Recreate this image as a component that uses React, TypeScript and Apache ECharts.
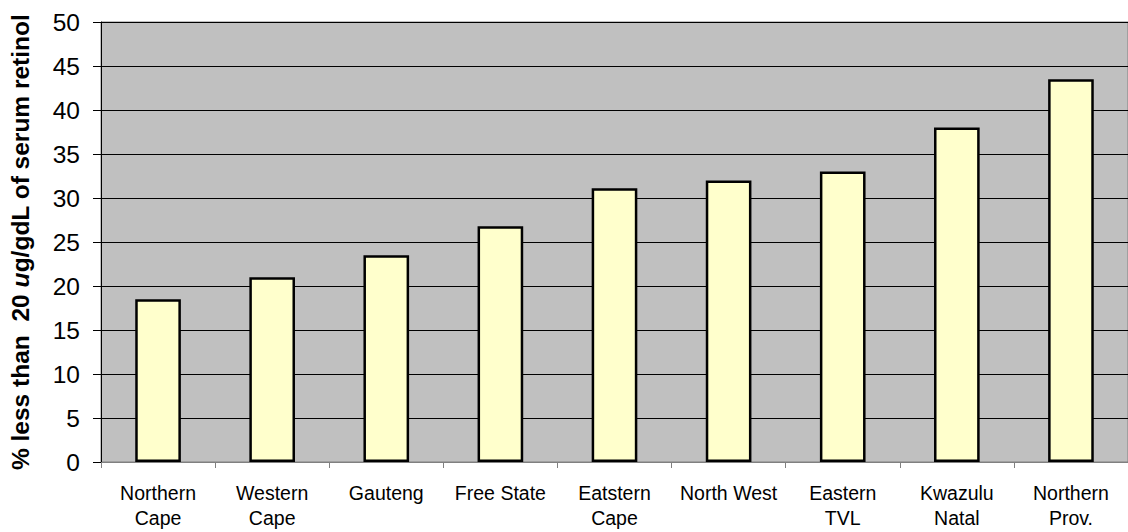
import React, { useEffect, useRef } from "react";
import * as echarts from "echarts";

const categories = [
  "Northern\nCape",
  "Western\nCape",
  "Gauteng",
  "Free State",
  "Eatstern\nCape",
  "North West",
  "Eastern\nTVL",
  "Kwazulu\nNatal",
  "Northern\nProv.",
];
const values = [18.5, 21.0, 23.5, 26.8, 31.1, 32.0, 33.0, 38.0, 43.5];
const yMin = 0;
const yMax = 50;
const yInterval = 5;

const FONT = "Liberation Sans, Arial, sans-serif";

export default function App() {
  const ref = useRef<HTMLDivElement>(null);
  useEffect(() => {
    document.body.style.margin = "0";
    const chart = echarts.init(ref.current!, null, { renderer: "svg" });
    chart.setOption({
      animation: false,
      backgroundColor: "#ffffff",
      textStyle: { fontFamily: FONT },
      grid: {
        left: 99,
        right: 0,
        top: 22,
        bottom: 70,
        show: true,
        backgroundColor: "#C0C0C0",
        borderColor: "#808080",
        borderWidth: 1,
      },
      xAxis: {
        type: "category",
        data: categories,
        axisLine: { lineStyle: { color: "#808080", width: 1 } },
        axisTick: { show: true, length: 6, lineStyle: { color: "#808080" } },
        axisLabel: {
          color: "#000",
          fontSize: 19.5,
          lineHeight: 25,
          margin: 18,
          interval: 0,
          fontFamily: FONT,
        },
        splitLine: { show: false },
      },
      yAxis: {
        type: "value",
        min: yMin,
        max: yMax,
        interval: yInterval,
        axisLine: { show: true, lineStyle: { color: "#000", width: 1 } },
        axisTick: { show: true, length: 8, lineStyle: { color: "#000" } },
        axisLabel: {
          color: "#000",
          fontSize: 24.5,
          margin: 21,
          fontFamily: FONT,
        },
        splitLine: { show: true, lineStyle: { color: "#000", width: 1 } },
        name: "{b|% less than  20 }{i|u}{b|g/gdL of serum retinol}",
        nameLocation: "middle",
        nameGap: 68,
        nameRotate: 90,
        nameTextStyle: {
          rich: {
            b: {
              fontSize: 24.5,
              fontWeight: "bold",
              color: "#000",
              fontFamily: FONT,
            },
            i: {
              fontSize: 24.5,
              fontWeight: "bold",
              fontStyle: "italic",
              color: "#000",
              fontFamily: FONT,
            },
          },
        },
      },
      series: [
        {
          type: "bar",
          data: values,
          barWidth: "40%",
          itemStyle: {
            color: "#FFFFCC",
            borderColor: "#000",
            borderWidth: 2.5,
          },
        },
      ],
    });
    return () => chart.dispose();
  }, []);
  return <div ref={ref} style={{ width: 1128, height: 532 }} />;
}
